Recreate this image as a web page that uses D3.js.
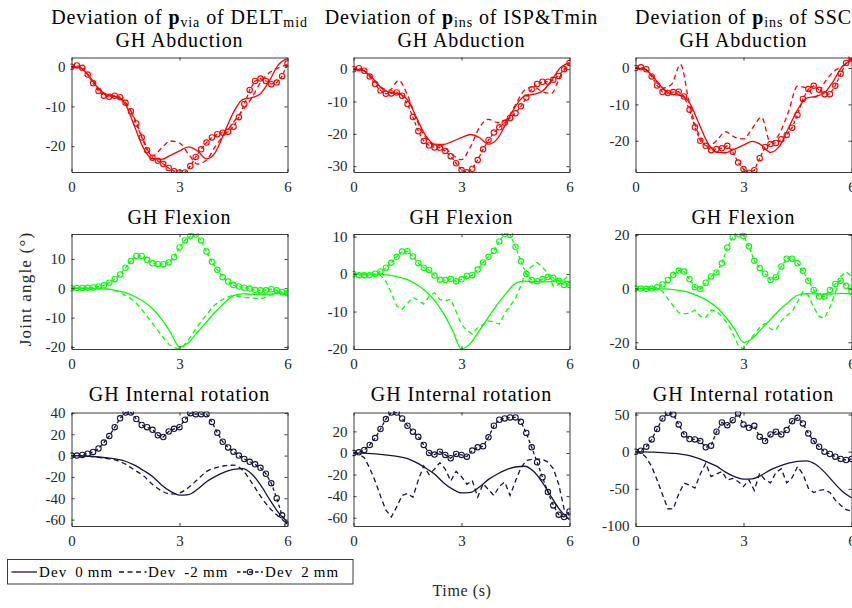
<!DOCTYPE html>
<html>
<head>
<meta charset="utf-8">
<script src="https://cdn.jsdelivr.net/npm/d3@7"></script>
<style>
  html, body { margin: 0; padding: 0; background: #fff; }
  svg { display: block; font-family: "Liberation Serif", "Times New Roman", serif; }
</style>
</head>
<body>
<svg id="chart" width="852" height="608"></svg>
<script>
// ---- data ----
const timeFine = [0, 0.15, 0.3, 0.45, 0.6, 0.75, 0.9, 1.05, 1.2, 1.35, 1.5, 1.65, 1.8, 1.95, 2.1, 2.25, 2.4, 2.55, 2.7, 2.85,
  3, 3.15, 3.3, 3.45, 3.6, 3.75, 3.9, 4.05, 4.2, 4.35, 4.5, 4.65, 4.8, 4.95, 5.1, 5.25, 5.4, 5.55, 5.7, 5.85, 6];
const timeCoarse = [0, 0.25, 0.5, 0.75, 1, 1.25, 1.5, 1.75, 2, 2.25, 2.5, 2.75, 3, 3.25, 3.5, 3.75, 4, 4.25, 4.5, 4.75,
  5, 5.25, 5.5, 5.75, 6];

const seriesDev = ["0", "-2", "2"];
const rowTitles = ["GH Abduction", "GH Flexion", "GH Internal rotation"];
const colTitles = [
  { sub: "via", rest: " of DELT", sub2: "mid" },
  { sub: "ins", rest: " of ISP&Tmin", sub2: "" },
  { sub: "ins", rest: " of SSC", sub2: "" }
];
const rowColors = ["#ff0000", "#00ff00", "#151540"];

// Dev 0 mm (nominal, same in every column)
const abdBase = [0, -0.3, -2.5, -5.5, -7.2, -7.6, -9.5, -15, -20.5, -23.2, -23.3, -22.3, -21.2, -20.2, -21.2, -23.2, -21.5, -16.5, -11.5, -8.3, -7.8, -6.8, -3.5, 0.5, 2];
const flexBase = [0, 0, 0, -0.1, -0.3, -0.8, -1.5, -2.8, -4.5, -7, -10.5, -15, -20, -18.5, -15, -11.5, -8, -5, -2.5, -1.9, -2, -2.1, -2, -1.8, -2];
const rotBase = [0, -0.2, -0.6, -1.3, -2.2, -3.3, -5.3, -9, -14, -19.5, -27.5, -33.5, -37, -36.5, -31.5, -24.5, -19.5, -15.5, -13, -12.3, -17, -27.5, -41, -53.5, -62];

// Dev -2 mm
const abdDash1 = [0, -0.3, -2.5, -5.5, -7.3, -7.5, -9, -13, -18.5, -22.5, -20.5, -18.7, -19.2, -22, -24.5, -23.5, -20, -17, -14, -11, -8, -4, -1.5, -0.3, 0.5];
const abdDash2 = [0, -0.3, -2.5, -5.5, -6.5, -3.5, -8, -15.5, -21, -23.5, -24, -26.5, -28, -24, -18, -15.5, -16.5, -15.5, -11, -6.5, -5.5, -7, -7.5, -2, 1.5];
const abdDash3 = [0, -0.3, -2.5, -5.5, -4.5, 1, -10, -18, -21.5, -20, -17.5, -19, -19.5, -16.5, -13.5, -20.5, -18, -12, -5, -5.5, -8, -4, -1, 0.5, 2.5];
const flexDash1 = [0, 0, 0, 0, -0.3, -1, -2.5, -4.5, -8, -12, -16, -19.5, -20.5, -17.5, -13, -9, -5.5, -3.5, -2.5, -3, -3.3, -3.5, -2.5, -1.2, -1.3];
const flexDash2 = [0, 0, 0, 0, -0.1, -0.3, -2, -5, -8.5, -9.4, -7.8, -6.2, -7, -8, -6, -5, -6.8, -7.1, -6.7, -10, -13.5, -15, -16, -14.3, -13.5, -12.5, -12.8, -13.4, -10.5, -8.5, -6.5, -3, 0.9, 2, 3.1, 1.8, 0.2, -3.3, -2.8, -1.5, 0];
const flexDash3 = [0, 0, 0, 0, 0, -1, -3.8, -6.5, -9, -9.3, -9.2, -8, -10.3, -10.8, -8, -8.5, -10.5, -12.8, -16.5, -21, -22.6, -19.5, -17, -14.5, -13, -15, -15.5, -12, -10, -8.6, -5, -1.1, -2.5, -7, -10.4, -11, -7, -1.5, 4.5, 6.3, 4.5];
const rotDash1 = [0, -0.3, -0.8, -1.6, -2.8, -4.5, -8, -13.5, -19, -27, -33, -36, -35, -30, -22.5, -15, -11.5, -9.5, -9, -13.5, -25, -38, -49, -57, -64];
const rotDash2 = [0, -1, -4.5, -14, -26, -40, -53, -59.4, -50, -39.4, -37.5, -41, -25, -12, -20, -15, -9, -15, -26, -17, -22, -29, -25.5, -41, -28.6, -34, -39.4, -31, -27, -39.4, -26, -14, -7, -6, -5.5, -6, -8.5, -14.5, -29, -52, -58];
const rotDash3 = [0, -1, -8, -20, -38, -58, -76.8, -77, -57, -42.4, -45, -49, -30, -15.6, -33.5, -30, -26.8, -38, -36, -40, -47, -38, -52, -29, -38, -42, -28, -23, -42, -35, -20, -30, -49, -55, -52, -51, -55, -65, -72, -78, -80];

// Dev 2 mm (marked)
const abdCirc1 = [0, 0.3, -0.3, -2, -4.2, -6.1, -7.3, -7.6, -7.3, -7.7, -9.1, -11.2, -14.3, -17.8, -21, -22.9, -23.7, -24.5, -25.5, -26.3, -26.6, -26.6, -25, -22.7, -20.8, -19.1, -17.8, -17, -16.6, -16.4, -15.1, -12.7, -9.4, -5.9, -3.6, -3, -3.6, -4.4, -4, -2.4, 0.8];
const abdCirc2 = [0, 0.3, -0.5, -2.3, -4.6, -6.6, -7.6, -7.5, -7.2, -8.2, -10.8, -14.8, -19.2, -22.2, -23.6, -24.2, -24.3, -25.3, -26.9, -29.1, -31.2, -31.9, -30.8, -28.1, -24.8, -21.9, -19.6, -18, -16.6, -15.1, -13.6, -11.5, -8.8, -6.2, -4.6, -3.9, -3.9, -3.3, -2.1, 0, 1.9];
const abdCirc3 = [0, 0.2, -0.3, -2.3, -4.8, -6.6, -6.9, -6.6, -6.5, -7.8, -11.5, -16.3, -20, -21.4, -22.6, -22.3, -22.1, -21.4, -23, -26, -27.8, -28.8, -28.1, -24.8, -21.7, -20.9, -20.6, -19.6, -18.4, -16.4, -12.9, -8.5, -5.8, -4.9, -6, -7.2, -7.2, -4.9, -1.6, 1.4, 3];
const flexCirc1 = [0, 0.1, 0.1, 0.2, 0.3, 0.6, 1, 1.9, 3.1, 4.7, 7, 9.3, 11, 11, 9.7, 8.5, 8.2, 8.2, 8.8, 10.6, 13.9, 16.3, 17.8, 18.3, 16.3, 12.5, 9, 6.3, 3.8, 2.3, 1.1, 0.6, 0.2, -0.1, -0.6, -0.7, -0.7, -0.3, -0.7, -1.3, -1.7];
const flexCirc2 = [0, -0.3, -0.3, -0.3, 0.1, 0.7, 1.7, 3, 4.6, 6, 6.1, 4.7, 2.9, 1.7, 1.1, -0.4, -1.5, -1.6, -1.3, -1.9, -1.4, -0.5, -0.3, 1.2, 3.1, 4.6, 6.2, 8.7, 10.8, 10.5, 7.3, 3.4, 0, -1.6, -1.9, -1.3, -0.8, -1, -1.8, -2.9, -2.9];
const flexCirc3 = [0, 0, -0.1, 0, 0.5, 1.5, 3.2, 5.1, 6.7, 6.3, 3.5, 0.5, -0.2, 2.2, 4.5, 6, 9.4, 15.3, 19.1, 20.4, 19.6, 15.7, 10.3, 7.6, 5.5, 3.2, 4.2, 8.2, 11.1, 11.1, 9.4, 6.6, 2.9, -0.5, -3, -3, -0.5, 1.7, 2.9, 1, -1.2];
const rotCirc1 = [0, 0, 0.6, 1.8, 3.4, 6.7, 12.2, 18.3, 26.6, 34.9, 40.4, 40.4, 34.3, 28.7, 26.6, 24.2, 19, 17.4, 22.6, 25.1, 26.6, 33.6, 39.8, 38.8, 38.8, 38.8, 31.6, 21.3, 13, 7.7, 3.7, 0, -3.2, -5.8, -8.2, -11.5, -17, -26, -40, -56, -65];
const rotCirc2 = [0, 0.6, 2.8, 7.4, 13.8, 22.2, 31.4, 37.5, 37.5, 32, 25.2, 19.7, 15, 7.4, 0, -1.5, 1.2, -1.8, -4.9, -0.9, -1.8, -3.4, 2.2, 5.2, 6.2, 14.5, 25.2, 30.8, 32, 32.9, 32.9, 28.9, 18.5, 5.2, -8.6, -22.5, -36.3, -48.6, -57.2, -59.4, -54.2];
const rotCirc3 = [0, 1.3, 6.7, 16.5, 30.4, 44.6, 52.5, 50, 36.6, 23.2, 17, 16.5, 14.3, 5.8, 8, 26.8, 39.3, 35.7, 42.4, 51.3, 36.6, 32.1, 34.8, 20, 14.3, 23.2, 26.8, 23.2, 29, 41, 45.5, 38, 24.6, 14.3, 6.7, 0, -3.1, -6.7, -9.8, -11.2, -9.8];

const yDomains = [
  [[-26.5, 2.3], [-31.8, 3.6], [-28.6, 2.9]],
  [[-20.7, 18.5], [-20, 10.7], [-22.5, 20.3]],
  [[-66, 40.4], [-67.7, 37.5], [-100, 52.7]]
];
const yTicks = [
  [[-20, -10, 0], [-30, -20, -10, 0], [-20, -10, 0]],
  [[-20, -10, 0, 10], [-20, -10, 0, 10], [-20, 0, 20]],
  [[-60, -40, -20, 0, 20, 40], [-60, -40, -20, 0, 20], [-100, -50, 0, 50]]
];
const xTicks = [0, 3, 6];

const baseRows = [abdBase, flexBase, rotBase];
const dashRows = [[abdDash1, abdDash2, abdDash3], [flexDash1, flexDash2, flexDash3], [rotDash1, rotDash2, rotDash3]];
const circRows = [[abdCirc1, abdCirc2, abdCirc3], [flexCirc1, flexCirc2, flexCirc3], [rotCirc1, rotCirc2, rotCirc3]];

// ---- layout ----
const svg = d3.select('#chart');
const colLeft = [71.5, 353.5, 635.5];
const plotW = 216;
const rowTop = [57.5, 234, 412.5];
const rowH = [114.5, 115, 113.5];
const axisColor = '#262626';
const tickFont = 15;
const titleFont = 20;

const toPts = (t, v) => t.map((d, i) => [d, v[i]]);

for (let r = 0; r < 3; r++) {
  for (let c = 0; c < 3; c++) {
    const h = rowH[r];
    const g = svg.append('g').attr('transform', `translate(${colLeft[c]},${rowTop[r]})`);
    const x = d3.scaleLinear().domain([0, 6]).range([0, plotW]);
    const y = d3.scaleLinear().domain(yDomains[r][c]).range([h, 0]);
    const color = rowColors[r];
    const clipId = `clip-${r}-${c}`;
    g.append('clipPath').attr('id', clipId)
      .append('rect').attr('x', -1).attr('y', -1).attr('width', plotW + 2).attr('height', h + 2);

    const plot = g.append('g').attr('clip-path', `url(#${clipId})`)
      .attr('fill', 'none').attr('stroke', color).attr('stroke-width', 1.3);

    const smooth = d3.line().x(d => x(d[0])).y(d => y(d[1])).curve(d3.curveMonotoneX);
    const straight = d3.line().x(d => x(d[0])).y(d => y(d[1]));

    // Dev -2 mm: the jagged ones are sampled on the fine grid
    const dash = dashRows[r][c];
    const fine = dash.length === timeFine.length;
    const dashPts = fine ? toPts(timeFine, dash) : toPts(timeCoarse, dash);
    plot.append('path').attr('d', fine ? straight(dashPts) : smooth(dashPts))
      .attr('stroke-dasharray', '5,3.5');

    // Dev 0 mm
    plot.append('path').attr('d', smooth(toPts(timeCoarse, baseRows[r])));

    // Dev 2 mm
    const circPts = toPts(timeFine, circRows[r][c]);
    plot.append('path').attr('d', straight(circPts)).attr('stroke-dasharray', '3.5,2.5');
    plot.selectAll('circle').data(circPts).join('circle')
      .attr('cx', d => x(d[0])).attr('cy', d => y(d[1])).attr('r', 2.7)
      .attr('stroke-width', 1.1);

    // axes, box with inward ticks
    const fmt = d => String(d);
    const styleAxis = sel => {
      sel.attr('font-family', null).attr('font-size', tickFont);
      sel.selectAll('path.domain').attr('stroke', axisColor).attr('stroke-width', 0.9);
      sel.selectAll('line').attr('stroke', axisColor).attr('stroke-width', 0.9);
      sel.selectAll('text').attr('fill', axisColor);
    };
    g.append('g').call(d3.axisLeft(y).tickValues(yTicks[r][c]).tickSize(-3).tickSizeOuter(0).tickPadding(6).tickFormat(fmt)).call(styleAxis);
    g.append('g').attr('transform', `translate(${plotW},0)`)
      .call(d3.axisRight(y).tickValues(yTicks[r][c]).tickSize(-3).tickSizeOuter(0).tickFormat('')).call(styleAxis);
    g.append('g').attr('transform', `translate(0,${h})`)
      .call(d3.axisBottom(x).tickValues(xTicks).tickSize(-3).tickSizeOuter(0).tickPadding(9).tickFormat(fmt)).call(styleAxis);
    g.append('g')
      .call(d3.axisTop(x).tickValues(xTicks).tickSize(-3).tickSizeOuter(0).tickFormat('')).call(styleAxis);

    // titles
    const cx = colLeft[c] + plotW / 2;
    if (r === 0) {
      const ct = colTitles[c];
      const t = svg.append('text').attr('x', cx).attr('y', 23.5)
        .attr('text-anchor', 'middle').attr('font-size', titleFont).attr('letter-spacing', 0.9).attr('fill', '#000');
      t.append('tspan').text('Deviation of ');
      t.append('tspan').attr('font-weight', 'bold').text('p');
      t.append('tspan').attr('font-size', 14).attr('dy', 3.5).text(ct.sub);
      t.append('tspan').attr('dy', -3.5).text(ct.rest);
      if (ct.sub2) t.append('tspan').attr('font-size', 14).attr('dy', 3.5).text(ct.sub2);
      svg.append('text').attr('x', cx).attr('y', 46.5).attr('text-anchor', 'middle')
        .attr('font-size', titleFont).attr('letter-spacing', 0.9).attr('fill', '#000').text(rowTitles[r]);
    } else {
      svg.append('text').attr('x', cx).attr('y', r === 1 ? 224 : 400.5).attr('text-anchor', 'middle')
        .attr('font-size', titleFont).attr('letter-spacing', 0.9).attr('fill', '#000').text(rowTitles[r]);
    }
  }
}

// axis labels
svg.append('text').attr('transform', 'translate(31,289) rotate(-90)').attr('text-anchor', 'middle')
  .attr('font-size', 17).attr('letter-spacing', 1.2).attr('fill', axisColor).text('Joint angle (°)');
svg.append('text').attr('x', 462).attr('y', 596).attr('text-anchor', 'middle')
  .attr('font-size', 16).attr('letter-spacing', 0.6).attr('fill', axisColor).text('Time (s)');

// legend
const leg = svg.append('g');
leg.append('rect').attr('x', 7.5).attr('y', 559.5).attr('width', 345.5).attr('height', 24.5)
  .attr('fill', '#fff').attr('stroke', axisColor).attr('stroke-width', 0.9);
const legItems = [
  { x0: 11.5, x1: 37, tx: 39, dash: null, marker: false },
  { x0: 119, x1: 146.5, tx: 148, dash: '5,3.5', marker: false },
  { x0: 237, x1: 263, tx: 265, dash: '3.5,2.5', marker: true }
];
const legColor = rowColors[2];
legItems.forEach((it, i) => {
  leg.append('line').attr('x1', it.x0).attr('x2', it.x1).attr('y1', 572).attr('y2', 572)
    .attr('stroke', legColor).attr('stroke-width', 1.3).attr('stroke-dasharray', it.dash);
  if (it.marker) {
    leg.append('circle').attr('cx', (it.x0 + it.x1) / 2).attr('cy', 572).attr('r', 2.7)
      .attr('fill', 'none').attr('stroke', legColor).attr('stroke-width', 1.1);
  }
  leg.append('text').attr('x', it.tx).attr('y', 577).attr('font-size', 15)
    .attr('letter-spacing', 1.1).attr('word-spacing', 3).attr('fill', '#000')
    .text(`Dev ${seriesDev[i]}\u2009mm`);
});
</script>
</body>
</html>
